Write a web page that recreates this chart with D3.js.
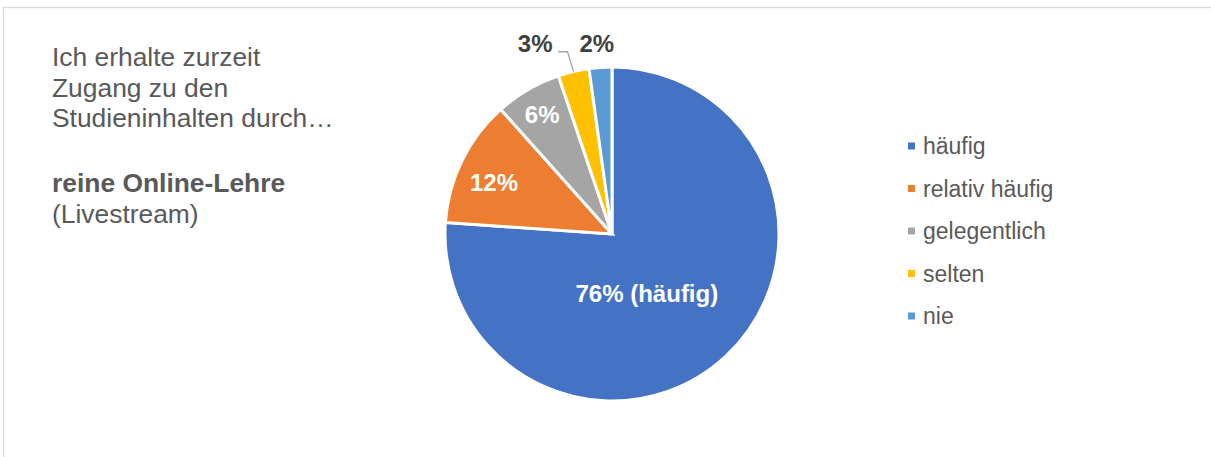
<!DOCTYPE html>
<html>
<head>
<meta charset="utf-8">
<script src="https://cdn.jsdelivr.net/npm/d3@7"></script>
<style>
  body { margin: 0; background: #fff; }
  text { font-family: "Liberation Sans", Arial, sans-serif; }
</style>
</head>
<body>
<svg id="chart"></svg>
<script>
const width = 1211, height = 457;

// Data
const categories = ["häufig", "relativ häufig", "gelegentlich", "selten", "nie"],
      shares = [76.1, 12.3, 6.4, 3.0, 2.2],
      sliceLabels = ["76% (häufig)", "12%", "6%", "3%", "2%"],
      colors = ["#4472C4", "#ED7D31", "#A5A5A5", "#FFC000", "#5B9BD5"],
      titleLines = ["Ich erhalte zurzeit", "Zugang zu den", "Studieninhalten durch…"],
      subtitleBold = "reine Online-Lehre",
      subtitleRest = "(Livestream)";

// label placement: radius factor and pixel nudge, per slice
const labelLayout = [
  {r: 0.42, dx: -13, dy: 8, inside: true},
  {r: 0.78, dx: -1, dy: 6, inside: true},
  {r: 0.83, dx: 0, dy: 0, inside: true},
  {r: 1.14, dx: -33, dy: -5, inside: false},
  {r: 1.14, dx: -2, dy: 0, inside: false}
];

const cx = 612, cy = 234, radius = 167;

const svg = d3.select("#chart")
              .attr("width", width)
              .attr("height", height);

// Chart border (extends beyond the visible frame)
svg.append("rect")
   .attr("x", 3.5)
   .attr("y", 7.5)
   .attr("width", width + 20)
   .attr("height", height + 20)
   .style("fill", "none")
   .style("stroke", "#d9d9d9")
   .style("stroke-width", 1.3);

// Title block
let title = svg.append("g")
               .attr("transform", "translate(52, 0)")
               .style("fill", "#595959")
               .style("font-size", "26.4px");

titleLines.forEach((line, i) => {
  title.append("text")
       .attr("y", 66 + i * 30.5)
       .text(line);
});
title.append("text")
     .attr("y", 192)
     .style("font-weight", "bold")
     .text(subtitleBold);
title.append("text")
     .attr("y", 222.5)
     .text(subtitleRest);

// Pie
let pie = d3.pie()
            .sort(null)
            .value((d) => { return d; });

let arc = d3.arc()
            .innerRadius(0)
            .outerRadius(radius);

let arcs = pie(shares);

let chart = svg.append("g")
               .attr("transform", "translate(" + cx + "," + cy + ")");

chart.selectAll(".slice")
     .data(arcs)
     .enter().append("path")
     .attr("class", "slice")
     .attr("d", arc)
     .style("fill", (d, i) => { return colors[i]; })
     .style("stroke", "#fff")
     .style("stroke-width", 3)
     .style("stroke-linejoin", "miter");

// Slice labels
function labelPoint(d, i) {
  let l = labelLayout[i];
  let a = (d.startAngle + d.endAngle) / 2;
  return [Math.sin(a) * radius * l.r + l.dx, -Math.cos(a) * radius * l.r + l.dy];
}

chart.selectAll(".slice-label")
     .data(arcs)
     .enter().append("text")
     .attr("class", "slice-label")
     .attr("x", (d, i) => { return labelPoint(d, i)[0]; })
     .attr("y", (d, i) => { return labelPoint(d, i)[1]; })
     .attr("dy", "0.35em")
     .style("text-anchor", "middle")
     .style("font-size", "24px")
     .style("font-weight", "bold")
     .style("fill", (d, i) => { return labelLayout[i].inside ? "#fff" : "#404040"; })
     .text((d, i) => { return sliceLabels[i]; });

// Leader line for the "3%" label
let yellow = arcs[3];
let ya = (yellow.startAngle + yellow.endAngle) / 2;
let lp = labelPoint(yellow, 3);
let edge = [Math.sin(ya) * radius, -Math.cos(ya) * radius];
chart.append("polyline")
     .attr("points", [[lp[0] + 23, lp[1] + 8], [edge[0] - 6, lp[1] + 8], edge].join(" "))
     .style("fill", "none")
     .style("stroke", "#a6a6a6")
     .style("stroke-width", 1.3);

// Legend
let legend = svg.append("g")
                .attr("transform", "translate(908, 146)");

let row = legend.selectAll(".legend-row")
                .data(categories)
                .enter().append("g")
                .attr("class", "legend-row")
                .attr("transform", (d, i) => { return "translate(0," + i * 42.5 + ")"; });

row.append("rect")
   .attr("x", 0)
   .attr("y", -3.5)
   .attr("width", 7)
   .attr("height", 7)
   .style("fill", (d, i) => { return colors[i]; });

row.append("text")
   .attr("x", 15)
   .attr("dy", "0.35em")
   .style("font-size", "23px")
   .style("fill", "#595959")
   .text((d) => { return d; });
</script>
</body>
</html>
